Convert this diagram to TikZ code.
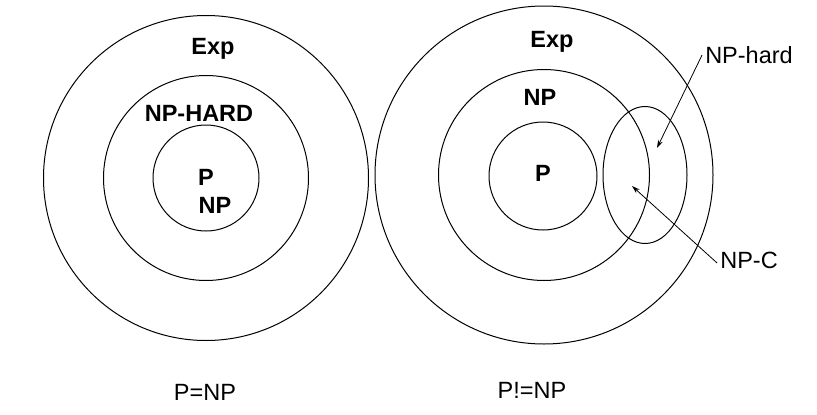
\documentclass[tikz,border=0pt]{standalone}
\usepackage{fontspec}
\setmainfont{Liberation Sans}
\usetikzlibrary{shapes.geometric,arrows.meta}
\begin{document}
\begin{tikzpicture}[x=1pt,y=-1pt,
  ring/.style={circle,draw,line width=1pt,inner sep=0pt,minimum size=#1},
  oval/.style={ellipse,draw,line width=1pt,inner sep=0pt},
  boldlbl/.style={font=\fontsize{23.5}{27}\selectfont\bfseries,inner sep=0pt},
  plainlbl/.style={font=\fontsize{23.5}{27}\selectfont,inner sep=0pt},
  pointer/.style={line width=0.8pt,-{Stealth[length=8pt,width=5pt]}}]
\useasboundingbox (0,0) rectangle (817,415);
% left diagram
\node[ring=325pt] (lexp) at (206,178) {};
\node[ring=205pt] (lhard) at (206,178) {};
\node[ring=106pt] (lp) at (206,178) {};
\node[boldlbl] (lexplbl) at (213,49) {Exp};
\node[boldlbl] (lhardlbl) at (199,113) {NP-HARD};
\node[boldlbl] (lplbl) at (206,177) {P};
\node[boldlbl] (lnplbl) at (215,205) {NP};
\node[plainlbl] (leq) at (205,392) {P=NP};
% right diagram
\node[ring=338pt] (rexp) at (544,175) {};
\node[ring=211pt] (rnp) at (544,175) {};
\node[ring=108pt] (rp) at (543,176) {};
\node[oval,minimum width=84pt,minimum height=137pt] (rnpc) at (645,175) {};
\node[boldlbl] (rexplbl) at (552,42) {Exp};
\node[boldlbl] (rnplbl) at (540,97) {NP};
\node[boldlbl] (rplbl) at (543,173) {P};
\node[plainlbl] (hardlbl) at (749,55) {NP-hard};
\node[plainlbl] (npclbl) at (749,260) {NP-C};
\node[plainlbl] (rneq) at (532,390) {P!=NP};
\coordinate (hardtip) at (657,148);
\coordinate (npctip) at (632,186);
\draw[pointer] ([xshift=-3pt]hardlbl.west) -- (hardtip);
\draw[pointer] ([xshift=-3pt,yshift=-3pt]npclbl.west) -- (npctip);
\end{tikzpicture}
\end{document}
